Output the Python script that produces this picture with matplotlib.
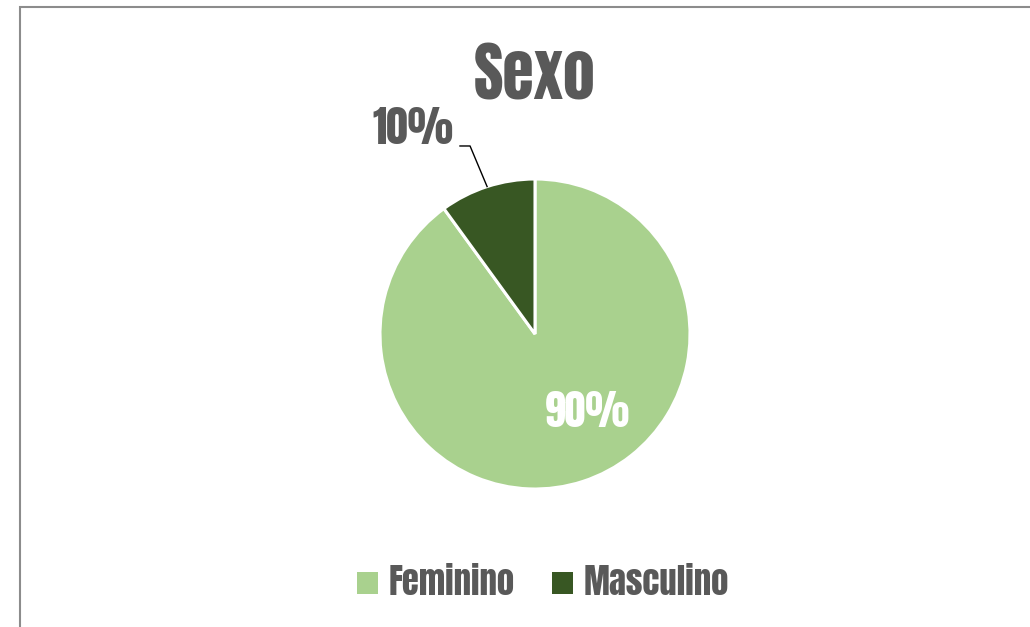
import numpy as np
import matplotlib
matplotlib.use('Agg')
import matplotlib.pyplot as plt
from matplotlib.patches import Patch, Rectangle

# data
categories = ['Feminino', 'Masculino']
shares = [90, 10]
colors = ['#A9D18E', '#385723']

TEXT_GRAY = '#595959'
FONT = ['Anton', 'Oswald', 'DejaVu Sans']

fig = plt.figure(figsize=(10.30, 6.27), dpi=100)
fig.patch.set_facecolor('white')

# chart frame (only left and top edges are visible)
fig.add_artist(Rectangle((20 / 1030, -0.1), 1.2, 1 - 7 / 627 + 0.1,
                         transform=fig.transFigure, fill=False,
                         edgecolor='#8c8c8c', linewidth=1.5))

ax = fig.add_axes([(535 - 155) / 1030, (627 - 489) / 627, 310 / 1030, 310 / 627])
wedges, _ = ax.pie(shares, colors=colors, startangle=90, counterclock=False,
                   radius=1.0, wedgeprops=dict(edgecolor='white', linewidth=2.2))
ax.set_xlim(-1, 1)
ax.set_ylim(-1, 1)
ax.set_aspect('equal')
ax.axis('off')

# 90% inside the big slice
ax.text(0.34, -0.50, '{}%'.format(shares[0]), color='white', fontsize=30,
        family=FONT, ha='center', va='center')

# 10% outside with leader line to the slice edge
w = wedges[1]
mid = np.deg2rad((w.theta1 + w.theta2) / 2)
edge = (np.cos(mid), np.sin(mid))
ax.plot([-0.484, -0.419, edge[0]], [1.213, 1.213, edge[1]], color='black',
        linewidth=1.0, clip_on=False)
ax.text(-0.79, 1.33, '{}%'.format(shares[1]), color=TEXT_GRAY, fontsize=31,
        family=FONT, ha='center', va='center')

fig.text(535 / 1030, 1 - 75 / 627, 'Sexo', color=TEXT_GRAY, fontsize=46,
         family=FONT, ha='center', va='center')

handles = [Patch(facecolor=c, edgecolor='none') for c in colors]
leg = fig.legend(handles, categories, loc='center', ncol=2,
                 bbox_to_anchor=(543 / 1030, 1 - 582 / 627), frameon=False,
                 prop=dict(family=FONT, size=25), handlelength=0.6,
                 handleheight=0.6, handletextpad=0.3, columnspacing=1.1)
for t in leg.get_texts():
    t.set_color(TEXT_GRAY)

fig.savefig('out.png', dpi=100, facecolor='white')
